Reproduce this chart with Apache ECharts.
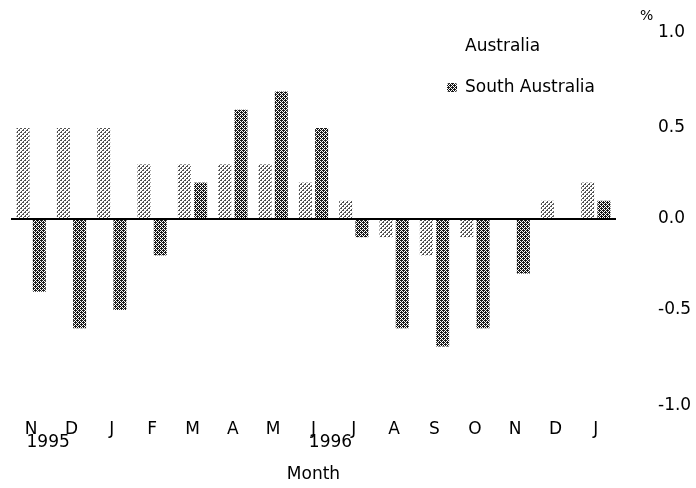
<!DOCTYPE html>
<html><head><meta charset="utf-8">
<script src="https://cdn.jsdelivr.net/npm/echarts@6/dist/echarts.min.js"></script>
<style>html,body{margin:0;padding:0;background:#fff}#c{width:696px;height:488px}</style>
</head><body><div id="c"></div>
<script>
const months = ['N','D','J','F','M','A','M','J','J','A','S','O','N','D','J'];
const yearLabels = ['1995','','','','','','','1996','','','','','','',''];
const australia = [0.5,0.5,0.5,0.3,0.3,0.3,0.3,0.2,0.1,-0.1,-0.2,-0.1,0,0.1,0.2];
const southAustralia = [-0.4,-0.6,-0.5,-0.2,0.2,0.6,0.7,0.5,-0.1,-0.6,-0.7,-0.6,-0.3,0,0.1];
const seriesNames = ['Australia','South Australia'];

function pattern(size, bg, fg, on) {
  const c = document.createElement('canvas');
  c.width = c.height = size;
  const g = c.getContext('2d');
  g.fillStyle = bg; g.fillRect(0,0,size,size);
  g.fillStyle = fg;
  for (let y=0;y<size;y++) for (let x=0;x<size;x++) if (on(x,y)) g.fillRect(x,y,1,1);
  return c;
}
const ausPat = pattern(4,'#ffffff','#505050',(x,y)=>
  (y===0 && (x===0||x===1)) || (y===1 && x===3) || (y===2 && (x===2||x===3)) || (y===3 && x===1));
const saPat = pattern(4,'#ffffff','#1a1a1a',(x,y)=> (x+y)%2===0 || (x===1 && y===0) || (x===3 && y===2));

const FONT = 'DejaVu Sans';
const chart = echarts.init(document.getElementById('c'), null, {renderer:'canvas'});
chart.setOption({
  animation: false,
  backgroundColor: '#ffffff',
  textStyle: {fontFamily: FONT, color: '#000'},
  grid: {left: 11, right: 80, top: 37, bottom: 87},
  legend: {
    orient: 'vertical', left: 442, top: 33,
    itemWidth: 10, itemHeight: 9, itemGap: 24,
    textStyle: {fontFamily: FONT, fontSize: 17, color: '#000', padding: [0,0,0,3]},
    data: [{name: seriesNames[0], itemStyle: {opacity: 0}}, {name: seriesNames[1]}]
  },
  graphic: [{type:'text', left: 640, top: 9, style:{text:'%', fontFamily: FONT, fontSize: 14, fill:'#000'}}],
  xAxis: [{
    type: 'category', data: months,
    axisLine: {show:false}, axisTick: {show:false},
    axisLabel: {interval: 0, margin: 20, color:'#000', fontFamily: FONT, fontSize: 17},
    name: 'Month', nameLocation: 'middle', nameGap: 65,
    nameTextStyle: {fontFamily: FONT, fontSize: 17, color: '#000'}
  }, {
    type: 'category', data: months, position: 'bottom',
    axisLine: {show:false}, axisTick: {show:false},
    axisLabel: {interval: 0, margin: 33, color:'#000', fontFamily: FONT, fontSize: 17,
      padding: [0,0,0,34], formatter: (v, i) => yearLabels[i]}
  }],
  yAxis: {
    type: 'value', position: 'right', min: -1, max: 1, interval: 0.5,
    axisLine: {show:false}, axisTick: {show:false}, splitLine: {show:false},
    axisLabel: {
      align: 'left', margin: 42, color: '#000', fontFamily: FONT, fontSize: 17,
      formatter: v => v === 1 ? '{u|1.0}' : (v === -1 ? '{d|-1.0}' : v.toFixed(1)),
      rich: {
        u: {padding: [0,0,9,0], fontFamily: FONT, fontSize: 17, color: '#000'},
        d: {padding: [10,0,0,0], fontFamily: FONT, fontSize: 17, color: '#000'}
      }
    }
  },
  series: [{
    name: seriesNames[0], type: 'bar', data: australia,
    barWidth: 13, barGap: '25%',
    itemStyle: {color: {image: ausPat, repeat: 'repeat'}}
  }, {
    name: seriesNames[1], type: 'bar', data: southAustralia,
    barWidth: 13, barGap: '25%',
    itemStyle: {color: {image: saPat, repeat: 'repeat'}},
    markLine: {
      silent: true, symbol: ['none','none'], label: {show:false},
      lineStyle: {color:'#000', width: 2, type: 'solid'},
      data: [{yAxis: 0}]
    }
  }]
});
</script></body></html>
